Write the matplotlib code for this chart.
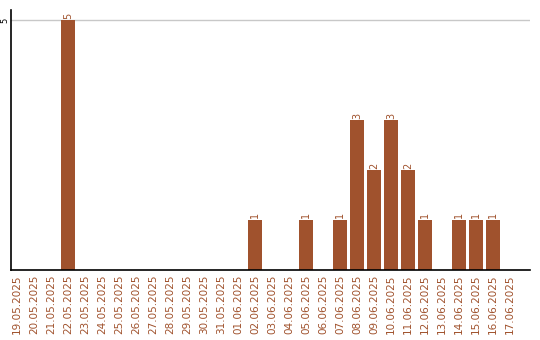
import matplotlib
matplotlib.use("Agg")
import matplotlib.pyplot as plt
import numpy as np

dates = ["19.05.2025", "20.05.2025", "21.05.2025", "22.05.2025", "23.05.2025",
         "24.05.2025", "25.05.2025", "26.05.2025", "27.05.2025", "28.05.2025",
         "29.05.2025", "30.05.2025", "31.05.2025", "01.06.2025", "02.06.2025",
         "03.06.2025", "04.06.2025", "05.06.2025", "06.06.2025", "07.06.2025",
         "08.06.2025", "09.06.2025", "10.06.2025", "11.06.2025", "12.06.2025",
         "13.06.2025", "14.06.2025", "15.06.2025", "16.06.2025", "17.06.2025"]
values = [0, 0, 0, 5, 0, 0, 0, 0, 0, 0, 0, 0, 0, 0, 1,
          0, 0, 1, 0, 1, 3, 2, 3, 2, 1, 0, 1, 1, 1, 0]

color = "#A0522D"
fig = plt.figure(figsize=(5.4, 3.4), dpi=100)
ax = fig.add_axes([11/540, 70/340, (530-11)/540, (270-10)/340])

x = np.arange(len(dates))
ax.bar(x, values, width=0.82, color=color, zorder=2)
for xi, v in zip(x, values):
    if v > 0:
        ax.text(xi, v + 0.03, str(v), rotation=90, ha="center", va="bottom",
                fontsize=7, color=color)

ax.set_xlim(-0.35, 30.18)
ax.set_ylim(0, 5.2)
ax.set_yticks([5])
ax.set_yticklabels(["5"], rotation=90, va="center", fontsize=6)
ax.set_xticks(x)
ax.set_xticklabels(dates, rotation=90, fontsize=7.5, color=color)
ax.tick_params(length=0, pad=3)
ax.tick_params(axis="y", pad=1.5)
ax.grid(axis="y", color="#c8c8c8", linewidth=1, zorder=0)
for s in ["top", "right"]:
    ax.spines[s].set_visible(False)
ax.spines["left"].set_linewidth(1.2)
ax.spines["bottom"].set_linewidth(1.2)

fig.savefig("out.png", dpi=100)
